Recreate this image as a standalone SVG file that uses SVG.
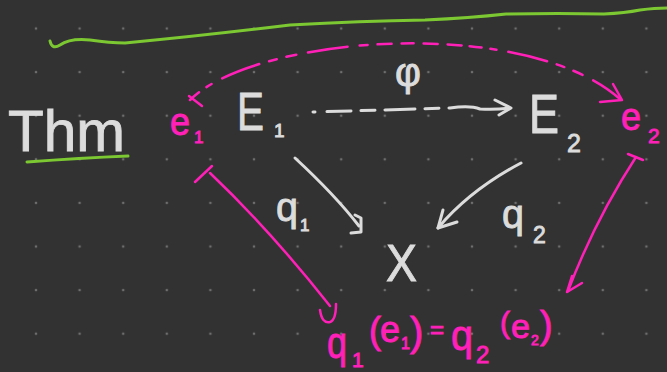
<svg xmlns="http://www.w3.org/2000/svg" width="667" height="372" viewBox="0 0 667 372">
<defs>
<style>
.w{fill:#dcdcdc;stroke:#dcdcdc;stroke-width:0.9;font-family:"Liberation Sans","DejaVu Sans",sans-serif}
.p{fill:#ff20b8;stroke:#ff20b8;stroke-width:0.9;font-family:"Liberation Sans","DejaVu Sans",sans-serif}
.ws{fill:none;stroke:#dcdcdc;stroke-width:3;stroke-linecap:round;stroke-linejoin:round}
.ps{fill:none;stroke:#ff20b8;stroke-width:2.5;stroke-linecap:round;stroke-linejoin:round}
.gs{fill:none;stroke:#7cc832;stroke-width:3;stroke-linecap:round;stroke-linejoin:round}
</style>
<pattern id="dots" x="36" y="28.5" width="43.6" height="43.6" patternUnits="userSpaceOnUse">
<circle cx="0" cy="0" r="1.3" fill="#6e6e6e"/>
<circle cx="43.6" cy="0" r="1.3" fill="#6e6e6e"/>
<circle cx="0" cy="43.6" r="1.3" fill="#6e6e6e"/>
<circle cx="43.6" cy="43.6" r="1.3" fill="#6e6e6e"/>
</pattern>
</defs>
<rect width="667" height="372" fill="#323232"/>
<rect width="667" height="372" fill="url(#dots)"/>

<path class="gs" d="M50,41 Q52,50 60,45 Q70,38 90,40 Q110,43 125,43 Q200,36 290,25 Q360,21 425,20 Q470,18 506,14 Q560,13 604,14 Q625,13 640,10 Q655,8 667,8"/>

<g id="thm">
<text class="w" x="8" y="151" font-size="58" textLength="117" lengthAdjust="spacingAndGlyphs">Thm</text>
<path class="gs" d="M27,162 Q80,158 128,156"/>
</g>

<g id="e1">
<text class="p" x="170" y="135" font-size="38" textLength="20" lengthAdjust="spacingAndGlyphs">e</text>
<text class="p" x="194" y="143" font-size="17">1</text>
</g>

<g id="E1">
<text class="w" x="237" y="130" font-size="54" textLength="27" lengthAdjust="spacingAndGlyphs">E</text>
<text class="w" x="274" y="137" font-size="19">1</text>
</g>

<g id="E2">
<text class="w" x="529" y="133" font-size="56" textLength="30" lengthAdjust="spacingAndGlyphs">E</text>
<text class="w" x="567" y="152" font-size="25">2</text>
</g>

<g id="e2">
<text class="p" x="621" y="130" font-size="38" textLength="20" lengthAdjust="spacingAndGlyphs">e</text>
<text class="p" x="648" y="143" font-size="21">2</text>
</g>

<g id="X">
<text class="w" x="386" y="281" font-size="52" textLength="31" lengthAdjust="spacingAndGlyphs">X</text>
</g>

<g id="eq">
<text class="p" x="327" y="358" font-size="44" textLength="20" lengthAdjust="spacingAndGlyphs">q</text>
<text class="p" x="352" y="367" font-size="21">1</text>
<text class="p" x="369" y="343" font-size="36">(</text>
<text class="p" x="380" y="342" font-size="36" textLength="20" lengthAdjust="spacingAndGlyphs">e</text>
<text class="p" x="401" y="349" font-size="16">1</text>
<text class="p" x="410" y="346" font-size="40">)</text>
<text class="p" x="430" y="338" font-size="24">=</text>
<text class="p" x="451" y="350" font-size="42" textLength="22" lengthAdjust="spacingAndGlyphs">q</text>
<text class="p" x="476" y="363" font-size="24">2</text>
<text class="p" x="500" y="333" font-size="30">(</text>
<text class="p" x="511" y="338" font-size="34" textLength="19" lengthAdjust="spacingAndGlyphs">e</text>
<text class="p" x="531" y="345" font-size="14">2</text>
<text class="p" x="540" y="338" font-size="38">)</text>
</g>

<g id="connectors">
<g id="phi-arrow">
<path class="ws" d="M313,112 L450,108 Q470,105 480,109 Q495,110 510,108" stroke-dasharray="2 12 24 10 14 10 30 10 14 10 60"/>
<path class="ws" d="M495,100 L511,108 L499,115"/>
<text class="w" x="408" y="86" font-size="40" text-anchor="middle">φ</text>
</g>
<g id="q1-arrow">
<path class="ws" d="M295,158 Q335,195 359,226"/>
<path class="ws" d="M355,215 L361,218 L361,232 L351,233"/>
<text class="w" x="276" y="221" font-size="40" textLength="22" lengthAdjust="spacingAndGlyphs">q</text>
<text class="w" x="300" y="231" font-size="17">1</text>
</g>
<g id="q2-arrow">
<path class="ws" d="M521,163 Q470,190 438,228"/>
<path class="ws" d="M443,210 L438,228 L457,222"/>
<text class="w" x="502" y="228" font-size="40" textLength="22" lengthAdjust="spacingAndGlyphs">q</text>
<text class="w" x="533" y="243" font-size="23">2</text>
</g>
<g id="e-arc">
<path class="ps" stroke-width="3" d="M190,100 C255,35 525,15 620,99" stroke-dasharray="12 9 6 12 40 10 8 10 10 12 40 12 8 10 14 10 12 10 14 10 14 8"/>
<path class="ps" stroke-width="3" d="M600,102 L622,100 L613,84"/>
<path class="ps" d="M189,96 L202,106"/>
</g>
<g id="left-mapsto">
<path class="ps" d="M195,182 L212,166"/>
<path class="ps" stroke-width="1.8" d="M210,173 Q270,230 330,306"/>
<path class="ps" d="M320,310 Q322,324 330,322 Q336,320 336,304"/>
</g>
<g id="right-mapsto">
<path class="ps" d="M628,154 L643,160"/>
<path class="ps" stroke-width="1.8" d="M636,157 Q595,220 568,291"/>
<path class="ps" d="M572,276 L567,292 L582,283"/>
</g>
</g>
</svg>
